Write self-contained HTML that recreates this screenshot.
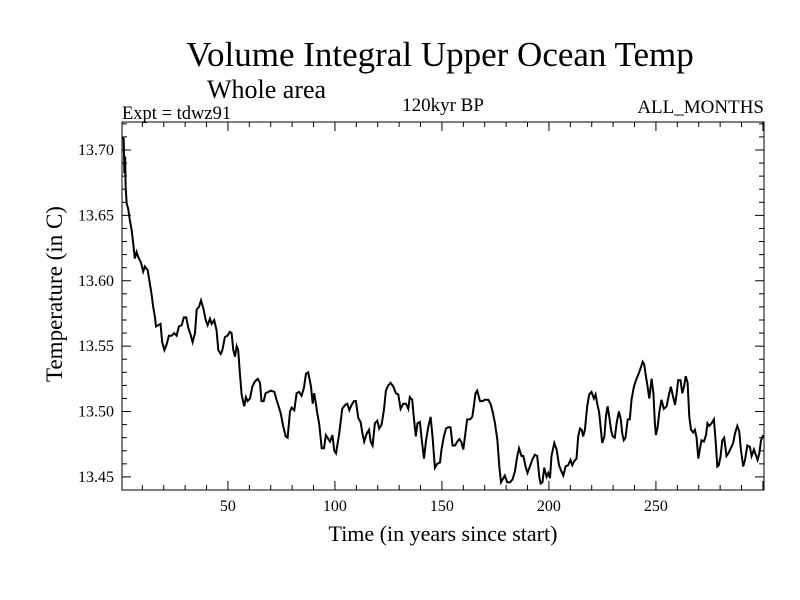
<!DOCTYPE html>
<html><head><meta charset="utf-8"><style>
body{margin:0;background:#fff;}
svg{display:block;font-family:"Liberation Serif",serif;}
</style></head><body>
<svg id="chart" width="800" height="600">
<rect width="800" height="600" fill="#fff"/>
<text x="440" y="66" font-size="35" text-anchor="middle">Volume Integral Upper Ocean Temp</text>
<text x="207" y="98" font-size="26">Whole area</text>
<text x="122" y="119" font-size="18.5">Expt = tdwz91</text>
<text x="443" y="111" font-size="19" text-anchor="middle">120kyr BP</text>
<text x="764" y="113" font-size="19" text-anchor="end">ALL_MONTHS</text>
<text x="443" y="541" font-size="22" text-anchor="middle">Time (in years since start)</text>
<text transform="translate(62,294) rotate(-90)" font-size="23" text-anchor="middle">Temperature (in C)</text>
<g id="axes"></g>
<path id="series" fill="none" stroke="#000" stroke-width="2"/>
<rect x="122" y="122" width="642" height="368" fill="none" stroke="#000" stroke-width="1"/>
</svg>
<script>
const years=[1,1.3,1.6,2.0,2.2,2.7,3.4,4.2,5.0,5.8,6.5,7.3,8.1,9.4,10.4,11.2,12.5,13.2,14.3,15.1,15.9,16.4,17.4,18.5,19.3,20.3,21.3,22.4,23.7,24.9,26.0,27.1,28.4,29.4,30.5,31.5,32.7,33.5,34.6,35.4,36.5,37.4,38.5,39.6,40.5,41.6,42.4,43.6,44.7,45.5,46.6,47.4,48.6,49.8,50.9,51.7,52.5,53.3,54.1,54.8,55.6,56.4,57.6,58.4,59.2,60.3,61.4,62.6,63.9,65.0,65.7,66.7,67.6,68.9,70.1,71.7,72.7,73.5,74.6,75.9,77.0,77.9,79.0,79.8,81.0,82.1,83.2,84.4,85.5,86.5,87.5,88.8,89.6,90.3,91.1,91.7,92.7,93.8,94.9,95.8,96.9,97.7,98.8,99.7,
100.5,102.0,103.4,104.7,105.8,106.7,107.8,108.9,109.8,110.9,112.0,112.9,113.7,114.8,115.9,116.7,117.6,118.7,119.8,120.7,121.8,122.9,123.8,124.9,126.0,127.3,128.5,129.6,130.7,131.9,133.2,134.3,135.0,136.1,136.9,137.8,138.6,139.7,140.6,141.6,142.5,143.6,144.7,145.6,146.7,147.8,149.1,149.8,150.9,151.9,153.0,154.0,155.0,156.1,157.2,158.1,159.0,160.0,160.7,161.8,163.1,164.2,165.0,165.7,166.5,167.8,169.0,170.1,171.6,172.7,173.7,174.8,175.9,176.8,177.6,178.7,179.4,180.5,181.8,183.0,184.1,185.2,186.0,187.2,188.0,189.1,190.0,191.1,192.2,193.4,194.5,195.5,196.1,197.0,197.8,198.9,199.7,
200.5,201.2,202.5,203.6,204.7,205.9,206.7,207.8,209.0,210.1,210.9,211.8,212.9,213.7,214.5,215.3,216.0,216.8,217.9,218.8,219.9,221.0,221.8,222.7,223.5,224.3,224.9,225.9,226.6,227.4,228.2,229.0,229.8,230.8,231.6,232.7,233.6,234.3,235.0,235.8,236.8,237.8,238.6,239.7,240.7,241.7,242.8,243.8,244.5,245.3,246.1,246.9,248.0,248.8,249.5,250.0,250.8,251.6,252.6,253.7,255.0,256.1,257.0,257.8,258.9,259.7,260.4,261.5,262.3,263.1,263.9,264.8,265.6,266.4,267.4,268.2,269.0,269.8,270.6,271.3,272.4,273.4,274.1,274.9,276.0,277.1,277.9,278.7,279.4,280.2,281.0,281.9,283.0,283.8,285.0,286.1,286.9,288.0,288.9,289.7,290.8,291.6,292.7,293.9,294.7,295.8,296.6,297.5,298.3,299.1,300.2];
const temps=[13.710,13.708,13.682,13.695,13.672,13.659,13.655,13.646,13.639,13.628,13.617,13.622,13.618,13.614,13.607,13.611,13.608,13.601,13.590,13.580,13.572,13.565,13.566,13.567,13.553,13.547,13.551,13.558,13.558,13.560,13.558,13.565,13.566,13.572,13.572,13.564,13.558,13.553,13.560,13.578,13.580,13.585,13.579,13.570,13.566,13.571,13.567,13.570,13.562,13.547,13.544,13.547,13.557,13.558,13.561,13.560,13.547,13.542,13.550,13.547,13.529,13.513,13.504,13.511,13.508,13.510,13.519,13.523,13.525,13.522,13.508,13.508,13.514,13.515,13.516,13.515,13.509,13.505,13.499,13.488,13.481,13.480,13.500,13.503,13.501,13.514,13.515,13.512,13.518,13.529,13.530,13.519,13.506,13.514,13.506,13.499,13.490,13.472,13.472,13.482,13.479,13.477,13.482,13.470,
13.468,13.483,13.502,13.505,13.506,13.501,13.505,13.508,13.508,13.495,13.492,13.483,13.477,13.483,13.486,13.477,13.474,13.491,13.493,13.487,13.490,13.501,13.516,13.520,13.522,13.519,13.514,13.513,13.502,13.506,13.506,13.502,13.511,13.509,13.495,13.481,13.491,13.492,13.478,13.464,13.477,13.488,13.496,13.481,13.457,13.460,13.461,13.471,13.481,13.487,13.488,13.488,13.474,13.474,13.477,13.479,13.477,13.471,13.480,13.494,13.494,13.496,13.505,13.514,13.516,13.508,13.508,13.509,13.509,13.506,13.500,13.491,13.478,13.458,13.446,13.449,13.451,13.446,13.446,13.448,13.454,13.466,13.472,13.466,13.466,13.458,13.453,13.458,13.463,13.467,13.466,13.450,13.445,13.446,13.457,13.450,13.453,
13.449,13.466,13.476,13.471,13.459,13.454,13.451,13.458,13.459,13.463,13.459,13.462,13.464,13.481,13.487,13.486,13.481,13.486,13.504,13.513,13.515,13.510,13.513,13.505,13.499,13.486,13.476,13.481,13.496,13.504,13.496,13.486,13.481,13.480,13.491,13.500,13.494,13.483,13.478,13.480,13.494,13.494,13.509,13.519,13.524,13.528,13.533,13.538,13.536,13.527,13.519,13.510,13.525,13.514,13.491,13.482,13.488,13.500,13.509,13.502,13.504,13.513,13.519,13.513,13.505,13.514,13.524,13.524,13.514,13.519,13.527,13.522,13.496,13.486,13.484,13.486,13.480,13.464,13.472,13.478,13.477,13.482,13.491,13.489,13.491,13.494,13.478,13.458,13.459,13.466,13.478,13.480,13.466,13.468,13.472,13.476,13.483,13.489,13.485,13.471,13.458,13.463,13.474,13.473,13.466,13.471,13.467,13.463,13.468,13.478,13.482];
const xTickLabels=[50,100,150,200,250];
const yTickLabels=["13.45","13.50","13.55","13.60","13.65","13.70"];

const L=122,R=764,T=122,B=490;
const x0=0.5,x1=300.5,y0=13.44,y1=13.7214;
const sx=v=>L+(v-x0)/(x1-x0)*(R-L);
const sy=v=>B-(v-y0)/(y1-y0)*(B-T);
const NS="http://www.w3.org/2000/svg";
const ax=document.getElementById('axes');
function ln(x1_,y1_,x2_,y2_){const l=document.createElementNS(NS,'line');
l.setAttribute('x1',x1_);l.setAttribute('y1',y1_);l.setAttribute('x2',x2_);l.setAttribute('y2',y2_);
l.setAttribute('stroke','#000');l.setAttribute('stroke-width','1');


ax.appendChild(l);}
function tx(x,y,s,anchor){const t=document.createElementNS(NS,'text');
t.setAttribute('x',x);t.setAttribute('y',y);t.setAttribute('font-size','16');t.setAttribute('text-anchor',anchor);t.textContent=s;


ax.appendChild(t);}
for(let yr=10;yr<=300;yr+=10){const X=sx(yr);const major=yr%50===0;const len=major?9:5;ln(X,B,X,B-len);ln(X,T,X,T+len);}
xTickLabels.forEach(v=>tx(sx(v),511,String(v),'middle'));
for(let i=0;i<=27;i++){const v=13.45+i*0.01;if(v>y1)break;const Y=sy(v);const major=i%5===0;const len=major?9:5;ln(L,Y,L+len,Y);ln(R,Y,R-len,Y);}
yTickLabels.forEach(s=>tx(114,sy(parseFloat(s))+5,s,'end'));
let d='';years.forEach((yr,i)=>{d+=(i?'L':'M')+sx(yr).toFixed(1)+','+sy(temps[i]).toFixed(1);});
document.getElementById('series').setAttribute('d',d);
</script>
</body></html>
